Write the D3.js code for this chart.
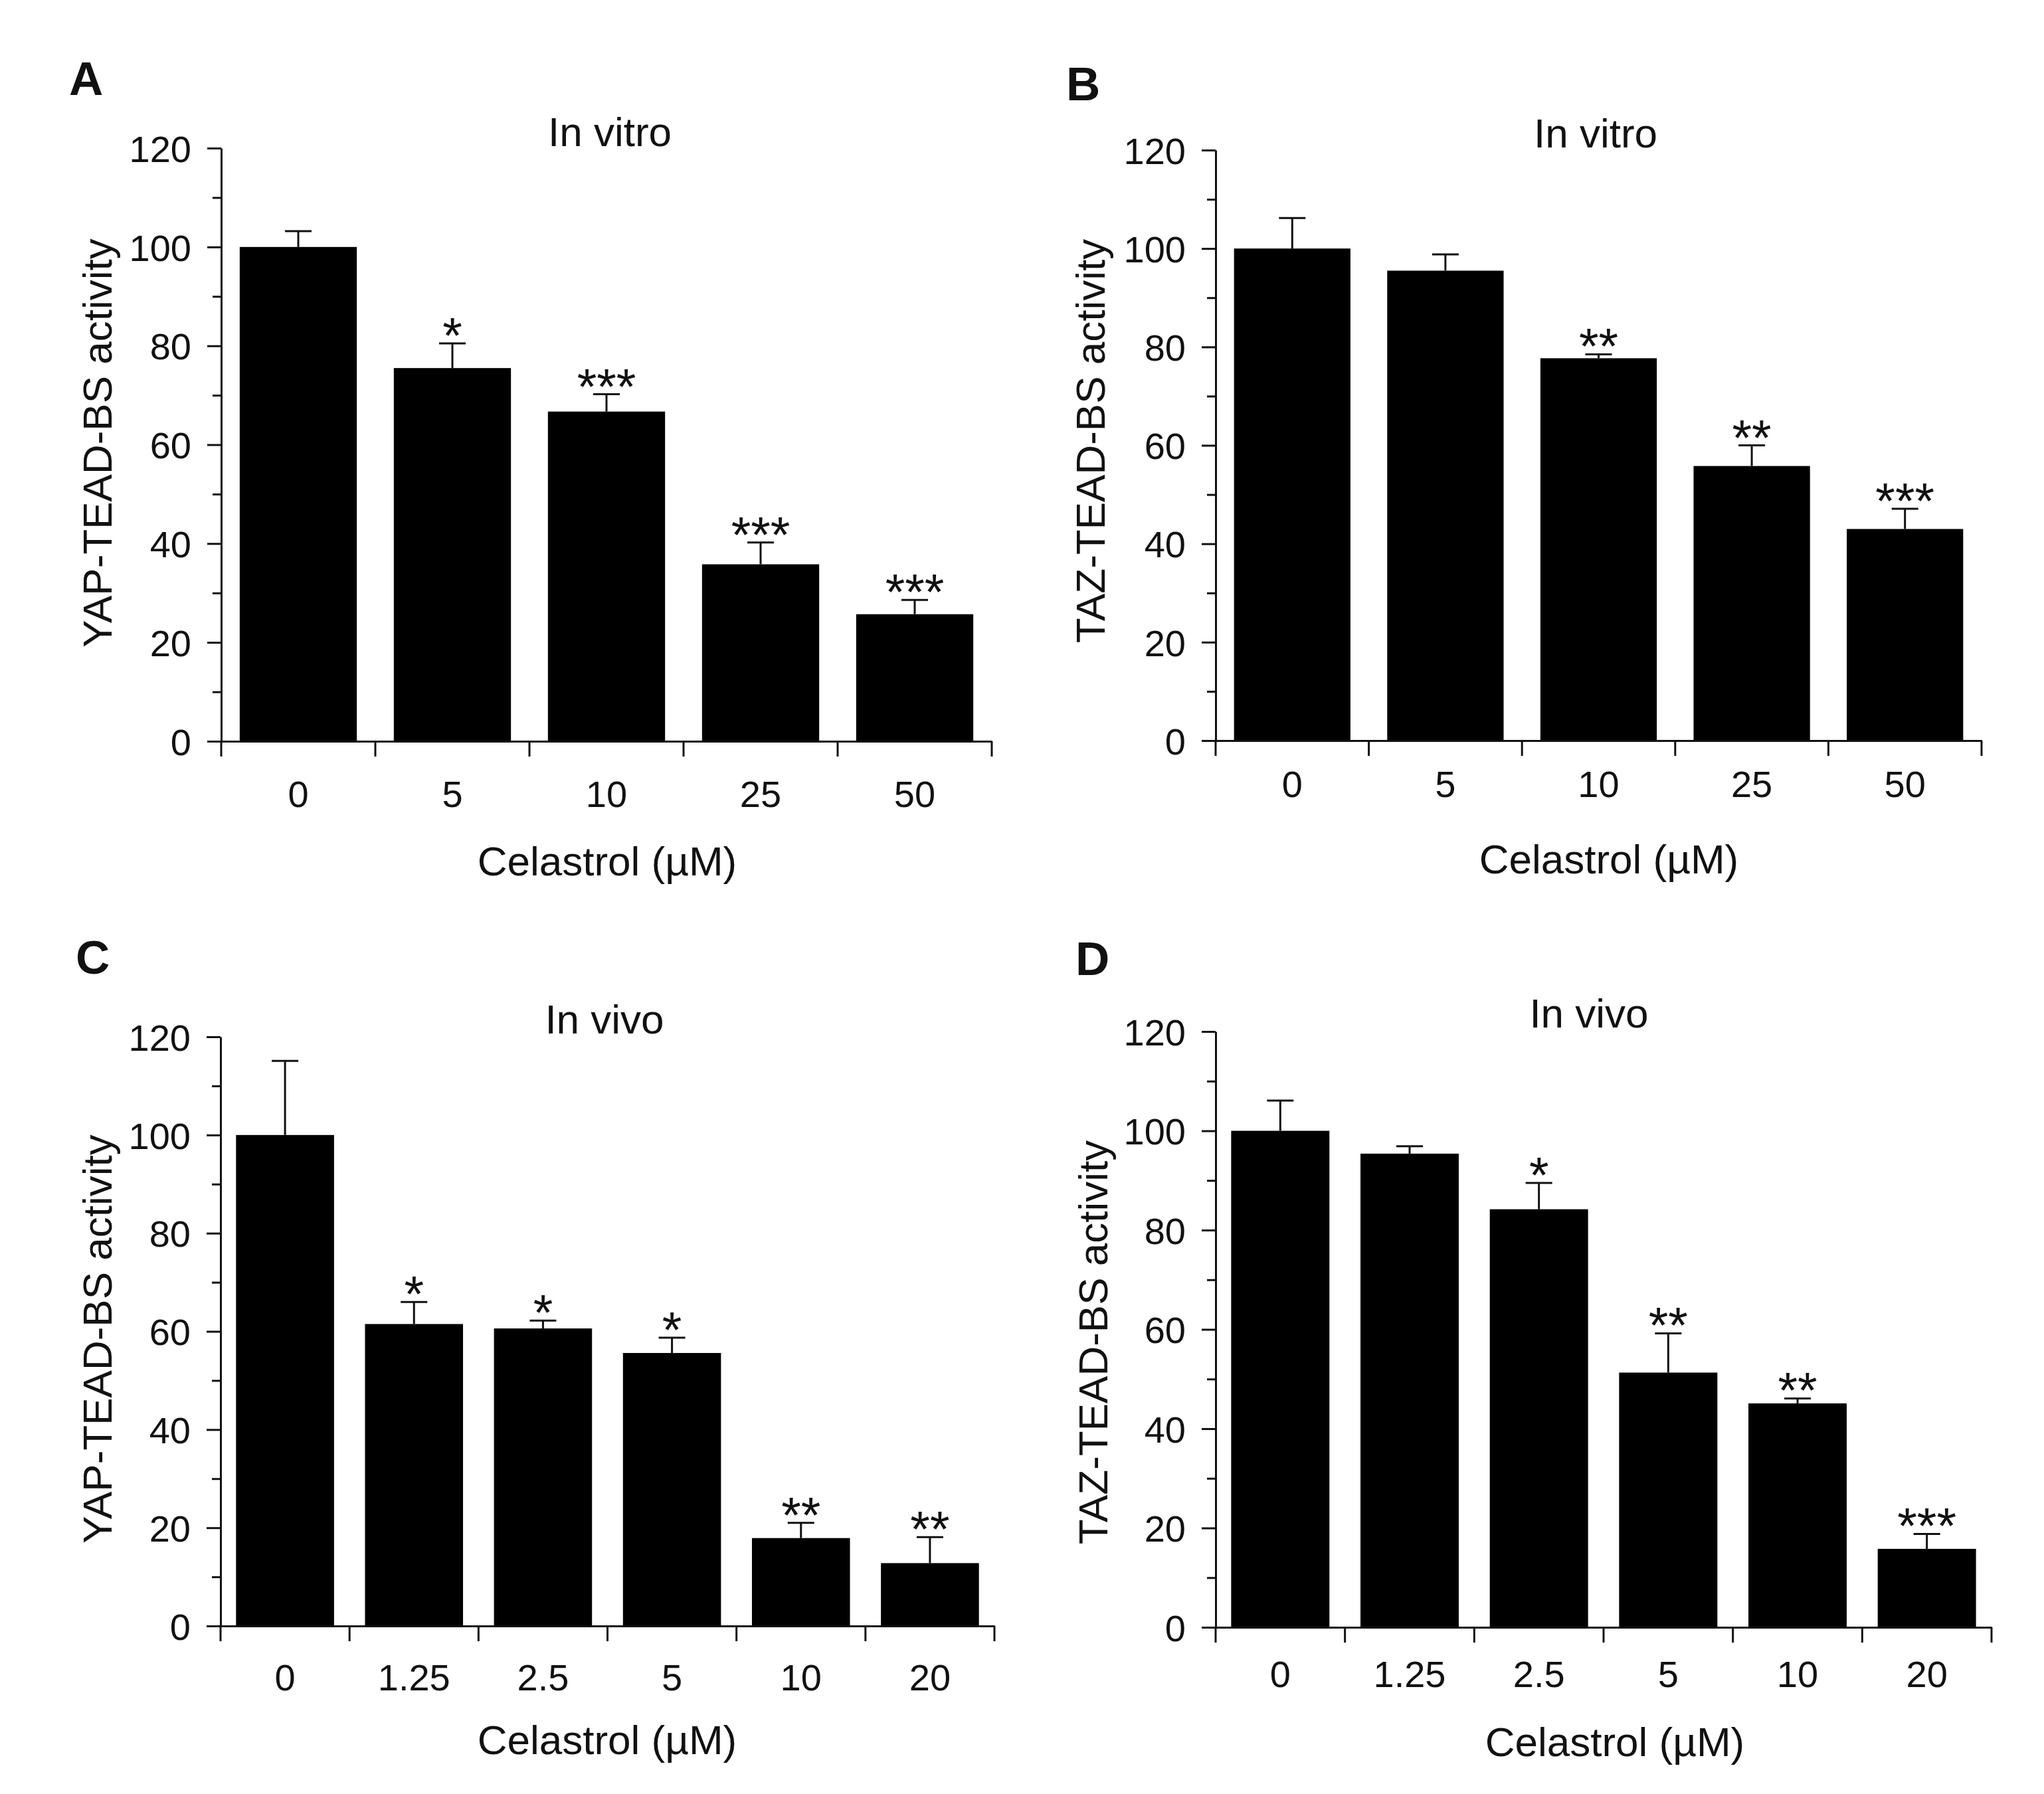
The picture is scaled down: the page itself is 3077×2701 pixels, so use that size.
<!DOCTYPE html>
<html>
<head>
<meta charset="utf-8">
<script src="https://cdn.jsdelivr.net/npm/d3@7"></script>
<style>
  body { margin: 0; background: #fff; }
  text { font-family: "Liberation Sans", Arial, sans-serif; fill: #111; }
</style>
</head>
<body>
<script>
// data (% activity, mean and upper error)
var doseVitro = ["0", "5", "10", "25", "50"];
var doseVivo = ["0", "1.25", "2.5", "5", "10", "20"];

var yapVitro = [100, 75.5, 66.7, 35.8, 25.7];
var yapVitroErr = [3.2, 5.0, 3.5, 4.4, 2.9];
var yapVitroSig = ["", "*", "***", "***", "***"];

var tazVitro = [100, 95.5, 77.7, 55.8, 43.0];
var tazVitroErr = [6.2, 3.3, 0.8, 4.2, 4.1];
var tazVitroSig = ["", "", "**", "**", "***"];

var yapVivo = [100, 61.5, 60.6, 55.6, 17.9, 12.8];
var yapVivoErr = [15.1, 4.5, 1.6, 3.1, 3.1, 5.3];
var yapVivoSig = ["", "*", "*", "*", "**", "**"];

var tazVivo = [100, 95.4, 84.2, 51.3, 45.1, 15.8];
var tazVivoErr = [6.1, 1.5, 5.3, 7.9, 1.0, 3.0];
var tazVivoSig = ["", "", "*", "**", "**", "***"];

var yTicks = [0, 20, 40, 60, 80, 100, 120];
var yMinor = [10, 30, 50, 70, 90, 110];

draw();
function draw(){
	var svg = d3.select("body").append("svg")
		.attr("width", 3077).attr("height", 2701);

	// panel layout
	var panels = [
		{letter:"A", title:"In vitro", ylab:"YAP-TEAD-BS activity", cats:doseVitro, vals:yapVitro, err:yapVitroErr, sig:yapVitroSig,
		 left:333, right:1493, y0:1116, yTop:223, lx:104, ly:143, tx:918, ty:220, yx:168, yy:667, cx:914, cy:1318, tickOff:99},
		{letter:"B", title:"In vitro", ylab:"TAZ-TEAD-BS activity", cats:doseVitro, vals:tazVitro, err:tazVitroErr, sig:tazVitroSig,
		 left:1830, right:2983, y0:1115, yTop:226, lx:1605, ly:151, tx:2402, ty:222, yx:1663, yy:664, cx:2422, cy:1315, tickOff:85},
		{letter:"C", title:"In vivo", ylab:"YAP-TEAD-BS activity", cats:doseVivo, vals:yapVivo, err:yapVivoErr, sig:yapVivoSig,
		 left:332, right:1497, y0:2448, yTop:1561, lx:114, ly:1466, tx:910, ty:1556, yx:168, yy:2016, cx:914, cy:2641, tickOff:97},
		{letter:"D", title:"In vivo", ylab:"TAZ-TEAD-BS activity", cats:doseVivo, vals:tazVivo, err:tazVivoErr, sig:tazVivoSig,
		 left:1830, right:2998, y0:2450, yTop:1553, lx:1619, ly:1468, tx:2392, ty:1547, yx:1667, yy:2021, cx:2431, cy:2644, tickOff:90}
	];

	panels.forEach(function(p){ drawPanel(svg, p); });
}

function drawPanel(svg, p){
	var g = svg.append("g");
	var x = d3.scaleBand().domain(p.cats).range([p.left, p.right])
		.paddingInner(0.24).paddingOuter(0.12);
	var y = d3.scaleLinear().domain([0, 120]).range([p.y0, p.yTop]);

	// bars
	g.selectAll("rect.bar").data(p.vals).enter().append("rect")
		.attr("class", "bar")
		.attr("x", function(d, i){ return x(p.cats[i]); })
		.attr("y", function(d){ return y(d); })
		.attr("width", x.bandwidth())
		.attr("height", function(d){ return y(0) - y(d); })
		.attr("fill", "#000");

	// error bars (upper only) + significance stars
	var cap = 20;
	p.vals.forEach(function(v, i){
		var cxm = x(p.cats[i]) + x.bandwidth()/2;
		var top = y(v + p.err[i]);
		g.append("line").attr("x1", cxm).attr("x2", cxm)
			.attr("y1", y(v)).attr("y2", top)
			.attr("stroke", "#111").attr("stroke-width", 3);
		g.append("line").attr("x1", cxm - cap).attr("x2", cxm + cap)
			.attr("y1", top).attr("y2", top)
			.attr("stroke", "#111").attr("stroke-width", 3);
		if (p.sig[i]) {
			g.append("text").attr("x", cxm).attr("y", top + 14)
				.attr("text-anchor", "middle").attr("font-size", 76).text(p.sig[i]);
		}
	});

	// y axis
	var yAxis = g.append("g").attr("transform", "translate(" + p.left + ",0)")
		.call(d3.axisLeft(y).tickValues(yTicks).tickSize(21).tickSizeOuter(0).tickPadding(24));
	yAxis.append("g").call(d3.axisLeft(y).tickValues(yMinor).tickSize(13).tickFormat(""))
		.select(".domain").remove();
	yAxis.selectAll("text").attr("font-size", 56).attr("font-family", null).attr("fill", "#111")
		.attr("dy", "0.36em");
	yAxis.selectAll("line, path").attr("stroke", "#111").attr("stroke-width", 3);

	// x axis: labels at band centres, ticks at band edges
	var xAxis = g.append("g").attr("transform", "translate(0," + p.y0 + ")")
		.call(d3.axisBottom(x).tickSize(0).tickSizeOuter(0).tickPadding(0));
	xAxis.selectAll("text").attr("font-size", 56).attr("font-family", null).attr("fill", "#111")
		.attr("y", p.tickOff).attr("dy", 0);
	xAxis.select(".domain").attr("stroke", "#111").attr("stroke-width", 3);
	var edges = d3.range(p.cats.length + 1).map(function(i){ return p.left + i * x.step(); });
	xAxis.selectAll("line.edge").data(edges).enter().append("line")
		.attr("class", "edge")
		.attr("x1", function(d){ return d; }).attr("x2", function(d){ return d; })
		.attr("y1", 0).attr("y2", 23)
		.attr("stroke", "#111").attr("stroke-width", 3);

	// texts
	g.append("text").attr("x", p.lx).attr("y", p.ly)
		.attr("font-size", 71).attr("font-weight", "bold").text(p.letter);
	g.append("text").attr("x", p.tx).attr("y", p.ty)
		.attr("text-anchor", "middle").attr("font-size", 62).text(p.title);
	g.append("text").attr("transform", "translate(" + p.yx + "," + p.yy + ") rotate(-90)")
		.attr("text-anchor", "middle").attr("font-size", 62).text(p.ylab);
	g.append("text").attr("x", p.cx).attr("y", p.cy)
		.attr("text-anchor", "middle").attr("font-size", 62).text("Celastrol (µM)");
}
</script>
</body>
</html>
